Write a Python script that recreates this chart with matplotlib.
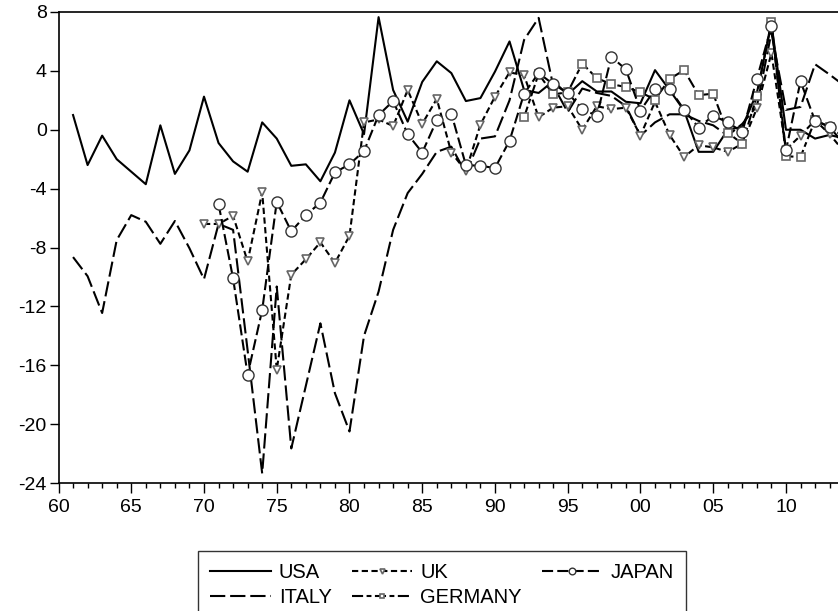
import matplotlib
matplotlib.use('Agg')
import matplotlib.pyplot as plt
from matplotlib.ticker import MultipleLocator

plt.rcParams['font.family'] = ['Liberation Sans', 'DejaVu Sans']
plt.rcParams['lines.scale_dashes'] = False
plt.rcParams['axes.unicode_minus'] = False

# ---- data ----
years_usa = list(range(1961, 2015))
usa = [1.0, -2.4, -0.4, -2.0, -2.85, -3.7, 0.3, -3.0, -1.4, 2.25,
       -0.9, -2.15, -2.85, 0.5, -0.6, -2.45, -2.35, -3.5, -1.55, 2.0,
       -0.3, 7.65, 2.7, 0.55, 3.25, 4.65, 3.85, 1.95, 2.15, 3.95,
       6.0, 2.7, 2.5, 3.3, 2.4, 3.3, 2.6, 2.6, 1.9, 1.8,
       4.05, 2.7, 1.3, -1.5, -1.5, 0.0, 0.2, 2.5, 7.2, 0.0,
       0.0, -0.6, -0.35, -0.6]

years_italy = list(range(1961, 2015))
italy = [-8.65, -9.95, -12.45, -7.5, -5.8, -6.25, -7.75, -6.2, -8.05, -10.15,
         -6.4, -6.8, -15.0, -23.35, -10.65, -21.65, -17.4, -13.15, -17.9, -20.5,
         -14.0, -11.0, -6.8, -4.3, -3.0, -1.5, -1.15, -2.95, -0.6, -0.45,
         2.0, 6.1, 7.6, 3.0, 1.2, 2.8, 2.5, 2.3, 1.6, -0.4,
         0.5, 1.05, 1.05, 0.6, 0.3, -0.4, 0.4, 1.6, 6.6, 1.35,
         1.55, 4.45, 3.75, 3.0]

years_uk = list(range(1970, 2015))
uk = [-6.4, -6.4, -5.85, -8.95, -4.25, -16.3, -9.85, -8.8, -7.65, -9.05,
      -7.2, 0.5, 0.7, 0.25, 2.7, 0.4, 2.1, -1.55, -2.8, 0.35,
      2.25, 3.9, 3.7, 0.85, 1.5, 1.6, 0.0, 1.6, 1.4, 1.5,
      -0.4, 1.9, -0.35, -1.85, -1.05, -1.2, -1.5, -0.95, 1.45, 5.2,
      -1.35, -0.4, 0.65, -0.3, -1.5]

years_japan = list(range(1971, 2015))
japan = [-5.05, -10.1, -16.65, -12.25, -4.9, -6.9, -5.8, -4.95, -2.9,
         -2.35, -1.45, 1.0, 1.95, -0.3, -1.55, 0.65, 1.1, -2.4, -2.45,
         -2.6, -0.75, 2.45, 3.85, 3.1, 2.5, 1.4, 0.95, 4.95, 4.1,
         1.3, 2.75, 2.8, 1.35, 0.15, 0.95, 0.5, -0.15, 3.45, 7.05,
         -1.4, 3.3, 0.6, 0.2, -1.0]

years_germany = list(range(1992, 2015))
germany = [0.85, 3.8, 2.4, 2.55, 4.5, 3.5, 3.1, 2.9, 2.55, 2.05,
           3.45, 4.05, 2.35, 2.45, -0.2, -0.95, 2.3, 7.35, -1.8, -1.85,
           0.65, 0.2, -0.5]

fig = plt.figure(figsize=(8.38, 6.11), dpi=100)
# axes run a little past the right edge, as in the original
ax = fig.add_axes([58.5 / 838, 128 / 611, 790 / 838, 471 / 611])

lw = 1.5
ax.plot(years_usa, usa, color='black', lw=lw, label='USA')
ax.plot(years_italy, italy, color='black', lw=lw, dashes=(11, 3.5), label='ITALY')
ax.plot(years_uk, uk, color='black', lw=lw, dashes=(4.5, 2.5), marker='v',
        ms=6, mfc='white', mec='#666666', mew=1.2, label='UK')
ax.plot(years_germany, germany, color='black', lw=lw, dashes=(8, 2.5, 3.5, 2.5),
        marker='s', ms=5.5, mfc='white', mec='#666666', mew=1.2, label='GERMANY')
ax.plot(years_japan, japan, color='black', lw=lw, dashes=(8, 3), marker='o',
        ms=8, mfc='white', mec='#333333', mew=1.0, label='JAPAN')

ax.set_xlim(1960, 1960 + (848 - 58.5) / 14.54)
ax.set_ylim(-24, 8)

xt = list(range(1960, 2015, 5))
ax.set_xticks(xt)
ax.set_xticklabels([f"{y % 100:02d}" for y in xt])
ax.xaxis.set_minor_locator(MultipleLocator(1))
ax.set_yticks(range(-24, 9, 4))

ax.tick_params(axis='both', which='major', direction='out', labelsize=14,
               color='black', width=1)
ax.tick_params(axis='x', which='major', length=7.5, pad=4)
ax.tick_params(axis='x', which='minor', length=3.5, width=1)
ax.tick_params(axis='y', which='major', length=6.5, pad=2)
ax.tick_params(top=False, right=False, which='both')

for side in ['left', 'bottom', 'top']:
    ax.spines[side].set_linewidth(1.2)
ax.spines['right'].set_visible(False)

leg = fig.legend(loc='upper center', bbox_to_anchor=(442 / 838, 1 - 551 / 611),
                 ncol=3, fontsize=14.5, frameon=True, fancybox=False,
                 edgecolor='black', handlelength=3.0, handletextpad=0.4,
                 columnspacing=1.0, labelspacing=0.3, borderpad=0.6,
                 borderaxespad=0, markerscale=0.6)
leg.get_frame().set_linewidth(1.0)

fig.savefig('out.png', dpi=100)
